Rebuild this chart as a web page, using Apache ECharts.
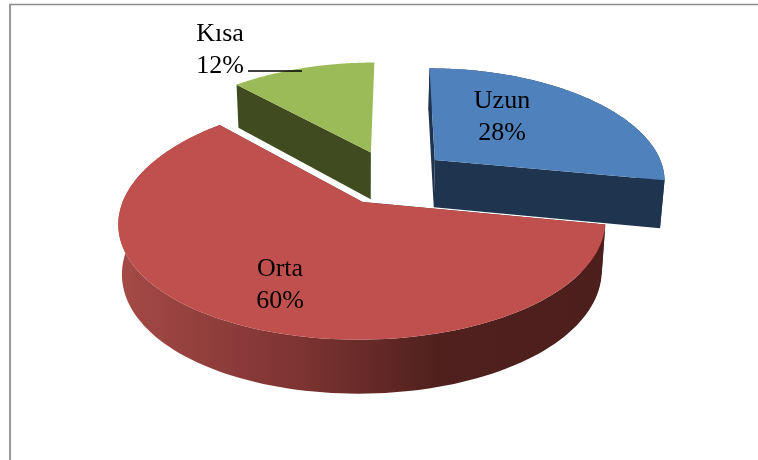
<!DOCTYPE html>
<html>
<head>
<meta charset="utf-8">
<style>
  html, body { margin: 0; padding: 0; background: #fff; }
  #chart { width: 758px; height: 460px; }
</style>
<script src="https://cdn.jsdelivr.net/npm/echarts@6/dist/echarts.min.js"></script>
</head>
<body>
<div id="chart"></div>
<script>
const categories = ['Uzun', 'Orta', 'Kısa']
const shares = [28, 60, 12]

const topColors = ['#4F81BD', '#C0504D', '#9BBB59']
const wallColors = ['#1F344E', '#4D1F1C', '#404C20']
const labelPos = [[502, 117], [280, 285], [220, 50]]
const drawOrder = [2, 1, 0]

// perspective of the pie plane (u to the right, v towards the viewer)
const originX = 361.5, originY = 202
const radiusX = 240, radiusY = 117
const perspX = 0.17, perspY = 0.15, skew = 4.5
const planeCenter = [0.125, -0.219]
const explode = 0.25

const project = (u, v) => [
  originX + radiusX * u / (1 - perspX * v) - skew * v,
  originY + radiusY * v / (1 - perspY * v)
]

// the bottom face sits lower, and a bit narrower because of the perspective
const projectBottom = (u, v) => {
  const p = project(u, v)
  return [originX + (p[0] - originX) * 0.985, p[1] + 49 + 5 * v]
}

const total = shares.reduce((a, b) => a + b, 0)
const slices = []
let acc = 0
shares.forEach((value) => {
  const start = acc / total * Math.PI * 2
  acc += value
  const end = acc / total * Math.PI * 2
  const mid = (start + end) / 2
  slices.push({
    start,
    end,
    apex: [
      planeCenter[0] + explode * Math.sin(mid),
      planeCenter[1] - explode * Math.cos(mid)
    ]
  })
})

const rimPoint = (s, angle) => [s.apex[0] + Math.sin(angle), s.apex[1] - Math.cos(angle)]

const poly = (points, fill) => ({
  type: 'polygon',
  shape: { points },
  style: { fill, stroke: null }
})

const renderSlice = (params, api) => {
  const i = api.value(0)
  const s = slices[i]
  const steps = 120
  const rim = []
  for (let k = 0; k <= steps; k++) {
    rim.push(rimPoint(s, s.start + (s.end - s.start) * k / steps))
  }
  const topRim = rim.map((p) => project(p[0], p[1]))
  const bottomRim = rim.map((p) => projectBottom(p[0], p[1]))
  const apexTop = project(s.apex[0], s.apex[1])
  const apexBottom = projectBottom(s.apex[0], s.apex[1])

  let outerFill = wallColors[i]
  if (categories[i] === 'Orta') {
    outerFill = new echarts.graphic.LinearGradient(0, 0, 1, 0, [
      { offset: 0, color: '#A54A47' },
      { offset: 0.38, color: '#7C3331' },
      { offset: 0.66, color: '#4F201D' },
      { offset: 1, color: '#4D1F1C' }
    ])
  }

  const children = []
  // Kısa sits at the back, only its left cut wall can be seen
  if (categories[i] !== 'Kısa') {
    children.push(poly(topRim.concat(bottomRim.slice().reverse()), outerFill))
    children.push(poly([apexTop, topRim[0], bottomRim[0], apexBottom], wallColors[i]))
  }
  children.push(poly([apexTop, topRim[steps], bottomRim[steps], apexBottom], wallColors[i]))
  if (categories[i] === 'Kısa') {
    children.pop()
    children.push(poly([apexTop, topRim[0], bottomRim[0], apexBottom], wallColors[i]))
  }
  children.push(poly([apexTop].concat(topRim), topColors[i]))
  children.push({
    type: 'text',
    x: labelPos[i][0],
    y: labelPos[i][1],
    style: {
      text: categories[i] + '\n' + shares[i] + '%',
      fill: '#000',
      font: '26px "Liberation Serif", "Times New Roman", serif',
      lineHeight: 32,
      align: 'center',
      verticalAlign: 'middle'
    }
  })
  return { type: 'group', children }
}

const chart = echarts.init(document.getElementById('chart'), null, { renderer: 'canvas' })

chart.setOption({
  animation: false,
  backgroundColor: '#ffffff',
  graphic: [
    { type: 'line', shape: { x1: 9, y1: 4.5, x2: 758, y2: 4.5 }, style: { stroke: '#8C8C8C', lineWidth: 1.5 } },
    { type: 'line', shape: { x1: 10, y1: 4, x2: 10, y2: 460 }, style: { stroke: '#9A9A9A', lineWidth: 2 } },
    // leader line of the Kısa label
    { type: 'line', z: 10, shape: { x1: 248, y1: 71, x2: 302, y2: 71 }, style: { stroke: '#000', lineWidth: 1.5 } }
  ],
  series: [{
    type: 'custom',
    coordinateSystem: 'none',
    silent: true,
    renderItem: renderSlice,
    data: drawOrder.map((i) => [i, shares[i]])
  }]
})
</script>
</body>
</html>
